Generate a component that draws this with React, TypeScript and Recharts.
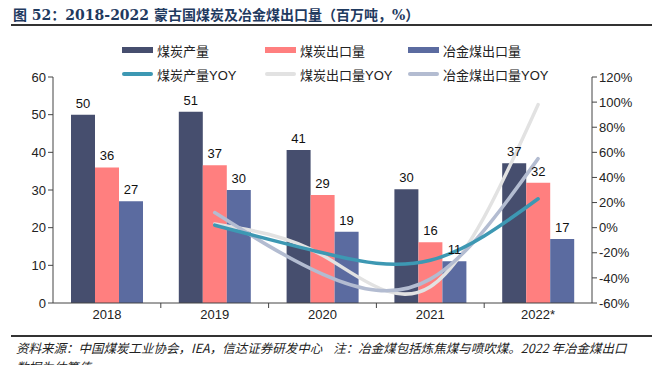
import React from "react";
import {
  ComposedChart,
  Bar,
  Line,
  XAxis,
  YAxis,
  LabelList,
} from "recharts";

const years = ["2018", "2019", "2020", "2021", "2022*"];
const coalOutput = [50.0, 50.8, 40.6, 30.2, 37.1];
const coalExport = [36.0, 36.6, 28.7, 16.1, 31.9];
const cokingExport = [27.0, 30.0, 18.9, 11.1, 17.0];
const coalOutputYoy = [null, 2, -20, -26, 23];
const coalExportYoy = [null, 3, -22, -47, 98];
const cokingExportYoy = [null, 12, -37, -41, 55];

const leftTicks = [0, 10, 20, 30, 40, 50, 60];
const rightTicks = [-60, -40, -20, 0, 20, 40, 60, 80, 100, 120];

const data = years.map((y, i) => ({
  year: y,
  coalOutput: coalOutput[i],
  coalExport: coalExport[i],
  cokingExport: cokingExport[i],
  coalOutputYoy: coalOutputYoy[i],
  coalExportYoy: coalExportYoy[i],
  cokingExportYoy: cokingExportYoy[i],
}));

const W = 660;
const LEFT_W = 53;
const RIGHT_W = 68;
const BAND = (W - LEFT_W - RIGHT_W) / years.length;

const FONT = '"Liberation Sans", Arial, "Noto Sans CJK SC", sans-serif';
const C_OUT = "#464e6e";
const C_EXP = "#ff7f7f";
const C_COK = "#5b6ba0";
const C_OUT_Y = "#3d98b3";
const C_EXP_Y = "#e2e2e2";
const C_COK_Y = "#b3bcd1";

const legendItems = [
  { name: "煤炭产量", color: C_OUT, bar: true },
  { name: "煤炭出口量", color: C_EXP, bar: true },
  { name: "冶金煤出口量", color: C_COK, bar: true },
  { name: "煤炭产量YOY", color: C_OUT_Y, bar: false },
  { name: "煤炭出口量YOY", color: C_EXP_Y, bar: false },
  { name: "冶金煤出口量YOY", color: C_COK_Y, bar: false },
];
const legendCols = [122, 265, 408];
const legendRows = [50, 74];

const XTick = (props: any) => {
  const { x, y, payload, index } = props;
  return (
    <g>
      <text
        x={x}
        y={y + 16}
        textAnchor="middle"
        fontSize={13}
        fill="#222"
        fontFamily={FONT}
      >
        {payload.value}
      </text>
      {index < years.length - 1 && (
        <line x1={x + BAND / 2} x2={x + BAND / 2} y1={y} y2={y + 5} stroke="#444" />
      )}
    </g>
  );
};

const round = (v: any) => Math.round(Number(v));

export default function App() {
  return (
    <div
      style={{
        position: "absolute",
        left: 0,
        top: 0,
        width: 660,
        height: 365,
        overflow: "hidden",
        background: "#fff",
        fontFamily: FONT,
      }}
    >
      <div
        style={{
          position: "absolute",
          left: 13,
          top: 4,
          fontSize: 14,
          fontWeight: "bold",
          color: "#1f3a5f",
          fontFamily: '"DejaVu Serif", "Noto Sans CJK SC", serif',
          whiteSpace: "nowrap",
          lineHeight: "22px",
        }}
      >
        图 52：2018-2022 蒙古国煤炭及冶金煤出口量（百万吨，%）
      </div>
      <div
        style={{ position: "absolute", left: 11, top: 24, width: 641, height: 2, background: "#333" }}
      />

      <ComposedChart
        width={660}
        height={330}
        data={data}
        margin={{ top: 77, right: 0, bottom: 0, left: 0 }}
        barGap={0}
        style={{ position: "absolute", left: 0, top: 0 }}
      >
        <XAxis
          dataKey="year"
          axisLine={{ stroke: "#444" }}
          tickLine={false}
          tickSize={0}
          tickMargin={0}
          height={27}
          tick={<XTick />}
          interval={0}
        />
        <YAxis
          yAxisId="left"
          domain={[0, 60]}
          ticks={leftTicks}
          width={LEFT_W}
          axisLine={{ stroke: "#444" }}
          tickLine={{ stroke: "#444" }}
          tickSize={5}
          tick={{ fontSize: 13, fill: "#222", fontFamily: FONT }}
        />
        <YAxis
          yAxisId="right"
          orientation="right"
          domain={[-60, 120]}
          ticks={rightTicks}
          width={RIGHT_W}
          axisLine={{ stroke: "#444" }}
          tickLine={{ stroke: "#444" }}
          tickSize={5}
          tickFormatter={(v: number) => `${v}%`}
          tick={{ fontSize: 13, fill: "#222", fontFamily: FONT }}
        />
        <Bar yAxisId="left" dataKey="coalOutput" fill={C_OUT} barSize={24} isAnimationActive={false}>
          <LabelList dataKey="coalOutput" position="top" offset={7} formatter={round} fontSize={13} fill="#111" fontFamily={FONT} />
        </Bar>
        <Bar yAxisId="left" dataKey="coalExport" fill={C_EXP} barSize={24} isAnimationActive={false}>
          <LabelList dataKey="coalExport" position="top" offset={7} formatter={round} fontSize={13} fill="#111" fontFamily={FONT} />
        </Bar>
        <Bar yAxisId="left" dataKey="cokingExport" fill={C_COK} barSize={24} isAnimationActive={false}>
          <LabelList dataKey="cokingExport" position="top" offset={7} formatter={round} fontSize={13} fill="#111" fontFamily={FONT} />
        </Bar>
        <Line yAxisId="right" type="natural" dataKey="coalExportYoy" stroke={C_EXP_Y} strokeWidth={3.5} strokeLinecap="round" dot={false} isAnimationActive={false} />
        <Line yAxisId="right" type="natural" dataKey="cokingExportYoy" stroke={C_COK_Y} strokeWidth={3.5} strokeLinecap="round" dot={false} isAnimationActive={false} />
        <Line yAxisId="right" type="natural" dataKey="coalOutputYoy" stroke={C_OUT_Y} strokeWidth={3.5} strokeLinecap="round" dot={false} isAnimationActive={false} />
      </ComposedChart>

      {legendItems.map((it, i) => {
        const x = legendCols[i % 3];
        const y = legendRows[Math.floor(i / 3)];
        return (
          <div key={it.name} style={{ position: "absolute", left: x, top: y - 9, height: 18, display: "flex", alignItems: "center", whiteSpace: "nowrap" }}>
            <div
              style={{
                width: 31,
                height: it.bar ? 6 : 4,
                background: it.color,
                borderRadius: it.bar ? 0 : 2,
                marginRight: 4,
              }}
            />
            <span style={{ fontSize: 13, color: "#222" }}>{it.name}</span>
          </div>
        );
      })}

      <div
        style={{ position: "absolute", left: 11, top: 335, width: 641, height: 2, background: "#333" }}
      />
      <div
        style={{
          position: "absolute",
          left: 16,
          top: 338,
          width: 636,
          fontSize: 12.5,
          lineHeight: "19px",
          fontStyle: "italic",
          color: "#222",
          fontFamily: '"Noto Sans CJK SC", serif',
          whiteSpace: "nowrap",
        }}
      >
        资料来源：中国煤炭工业协会，IEA，信达证券研发中心&nbsp;&nbsp;&nbsp;&nbsp;注：冶金煤包括炼焦煤与喷吹煤。2022 年冶金煤出口
        <br />
        数据为估算值
      </div>
    </div>
  );
}
